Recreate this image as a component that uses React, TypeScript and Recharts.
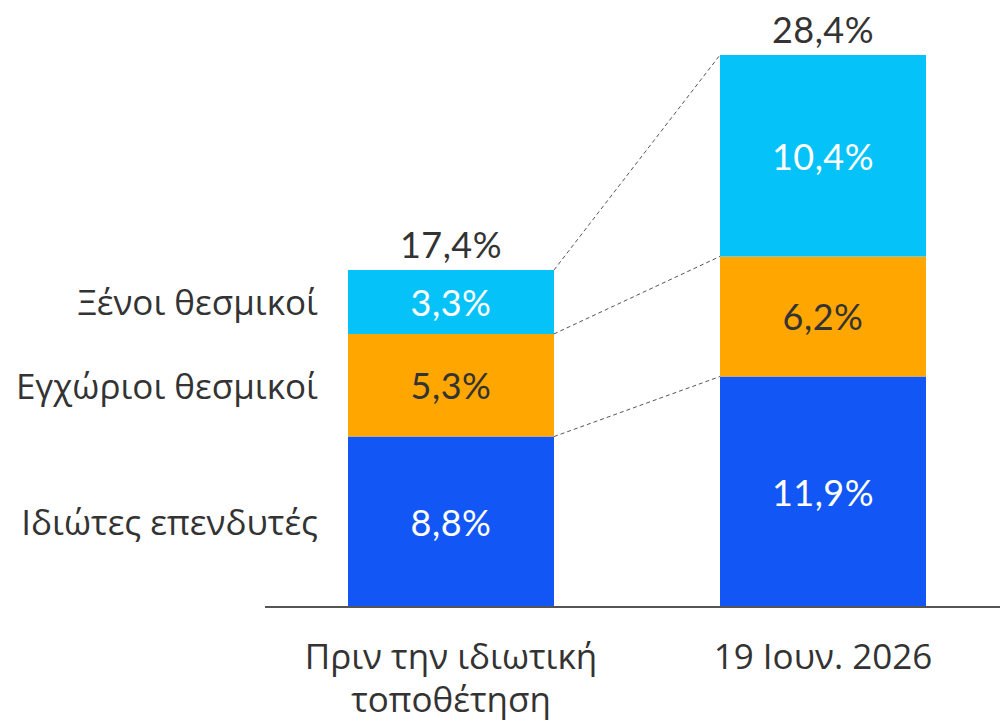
import React from 'react';
import { BarChart, Bar, XAxis, YAxis, LabelList } from 'recharts';

const CATEGORIES = ['Πριν την ιδιωτική τοποθέτηση', '19 Ιουν. 2026'];
const SERIES_NAMES = ['Ιδιώτες επενδυτές', 'Εγχώριοι θεσμικοί', 'Ξένοι θεσμικοί'];
const PRIVATE = [8.8, 11.9];
const DOMESTIC = [5.3, 6.2];
const FOREIGN = [3.3, 10.4];
const TOTALS = [17.4, 28.4];

const SERIES = [PRIVATE, DOMESTIC, FOREIGN];
const KEYS = ['private', 'domestic', 'foreign'];
const COLORS = ['#1257F5', '#FFA600', '#05C3F9'];
const LABEL_COLORS = ['#ffffff', '#333333', '#ffffff'];

const CHART_W = 1000;
const CHART_H = 722;
const MARGIN = { top: 55, right: -9, left: 265, bottom: 0 };
const STEP = (CHART_W - MARGIN.left - MARGIN.right) / CATEGORIES.length;

const VALUE_FONT = 'Lato, sans-serif';
const TEXT_FONT = '"Open Sans", sans-serif';

const data = CATEGORIES.map((name, i) => ({
  name,
  private: PRIVATE[i],
  domestic: DOMESTIC[i],
  foreign: FOREIGN[i],
  total: TOTALS[i],
}));

const fmt = (v: number) => v.toFixed(1).replace('.', ',') + '%';

const below = (s: number, j: number) =>
  SERIES.slice(0, s).reduce((acc, arr) => acc + arr[j], 0);

const segmentLabel = (s: number) => (props: any) => {
  const x = Number(props.x);
  const y = Number(props.y);
  const width = Number(props.width);
  const height = Number(props.height);
  const value = Number(props.value);
  const index = props.index;
  const cx = x + width / 2;
  const cy = y + height / 2;

  let connector = null;
  let name = null;
  if (index === 0) {
    // top of the same segment on the next bar, measured with this bar's scale
    const ppu = height / value;
    const base = y + height + below(s, 0) * ppu;
    const y2 = base - (below(s, 1) + SERIES[s][1]) * ppu;
    connector = (
      <line
        x1={x + width}
        y1={y}
        x2={x + STEP}
        y2={y2}
        stroke="#555"
        strokeWidth={1}
        strokeDasharray="4 3"
      />
    );
    name = (
      <text
        x={x - 30}
        y={cy}
        textAnchor="end"
        dominantBaseline="central"
        fill="#333"
        fontSize={35}
        fontFamily={TEXT_FONT}
      >
        {SERIES_NAMES[s]}
      </text>
    );
  }

  return (
    <g>
      <text
        x={cx}
        y={cy}
        textAnchor="middle"
        dominantBaseline="central"
        fill={LABEL_COLORS[s]}
        fontSize={36}
        letterSpacing={0.5}
        fontFamily={VALUE_FONT}
      >
        {fmt(value)}
      </text>
      {name}
      {connector}
    </g>
  );
};

const totalLabel = (props: any) => {
  const x = Number(props.x);
  const y = Number(props.y);
  const width = Number(props.width);
  return (
    <text
      x={x + width / 2}
      y={y - 26}
      textAnchor="middle"
      dominantBaseline="central"
      fill="#333"
      fontSize={36}
      letterSpacing={0.5}
      fontFamily={VALUE_FONT}
    >
      {fmt(Number(props.value))}
    </text>
  );
};

const CategoryTick = (props: any) => {
  const { x, y, payload } = props;
  const label: string = payload.value;
  let lines = [label];
  if (label.length > 15) {
    const cut = label.lastIndexOf(' ');
    lines = [label.slice(0, cut), label.slice(cut + 1)];
  }
  return (
    <text
      x={x}
      y={y + 54}
      textAnchor="middle"
      fill="#333"
      fontSize={35}
      fontFamily={TEXT_FONT}
    >
      {lines.map((l, i) => (
        <tspan key={i} x={x} dy={i === 0 ? 0 : 43}>
          {l}
        </tspan>
      ))}
    </text>
  );
};

export default function App() {
  return (
    <div
      style={{
        position: 'absolute',
        left: 0,
        top: 0,
        width: CHART_W,
        height: CHART_H,
        overflow: 'hidden',
        background: '#fff',
      }}
    >
      <BarChart width={CHART_W} height={CHART_H} data={data} margin={MARGIN} barSize={206}>
        <XAxis
          dataKey="name"
          height={115}
          tickLine={false}
          axisLine={{ stroke: '#555', strokeWidth: 2 }}
          tick={<CategoryTick />}
          interval={0}
        />
        <YAxis hide domain={[0, Math.max(...TOTALS)]} />
        {KEYS.map((k, s) => (
          <Bar key={k} dataKey={k} stackId="a" fill={COLORS[s]} isAnimationActive={false}>
            <LabelList dataKey={k} content={segmentLabel(s)} />
            {s === KEYS.length - 1 && <LabelList dataKey="total" content={totalLabel} />}
          </Bar>
        ))}
      </BarChart>
    </div>
  );
}
